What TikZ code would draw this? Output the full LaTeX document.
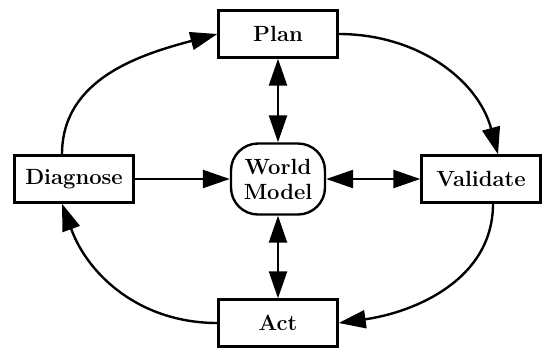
\documentclass[tikz,border=0pt]{standalone}
\usepackage{fontspec}
\usetikzlibrary{arrows.meta}
\begin{document}
\begin{tikzpicture}[x=1pt,y=-1pt,
    box/.style={draw,line width=2.4pt,rectangle,minimum width=119pt,minimum height=47pt,font=\fontsize{22}{25}\selectfont\bfseries},
    world/.style={draw,line width=2.4pt,rectangle,rounded corners=27pt,minimum width=94pt,minimum height=71pt,align=center,inner sep=0pt,font=\fontsize{22}{25}\selectfont\bfseries},
    link/.style={line width=2.4pt,-{Triangle[length=27pt,width=18pt]}},
    both/.style={line width=2.4pt,{Triangle[length=27pt,width=18pt]}-{Triangle[length=27pt,width=18pt]}}]
        \useasboundingbox (0,0) rectangle (543,349);
        %% Boxes
        \node[box] (Plan) at (278,34) {Plan};
        \node[box] (Diagnose) at (74,179) {Diagnose};
        \node[box] (Validate) at (481,179) {Validate};
        \node[box] (Act) at (278,323) {Act};
        \node[world] (World) at (278,179) {World\\Model};
        %% Cycle
        \draw[link] ([xshift=-12pt]Diagnose.north) to[out=90,in=195] (Plan.west);
        \draw[link] (Plan.east) to[out=0,in=105] ([xshift=17pt]Validate.north);
        \draw[link] ([xshift=12pt]Validate.south) to[out=-90,in=8] (Act.east);
        \draw[link] (Act.west) to[out=180,in=-70] ([xshift=-12pt]Diagnose.south);
        %% Model links
        \draw[both] (Plan) -- (World);
        \draw[both] (World) -- (Act);
        \draw[both] (World) -- (Validate);
        \draw[link] (Diagnose) -- (World);
    \end{tikzpicture}
\end{document}
